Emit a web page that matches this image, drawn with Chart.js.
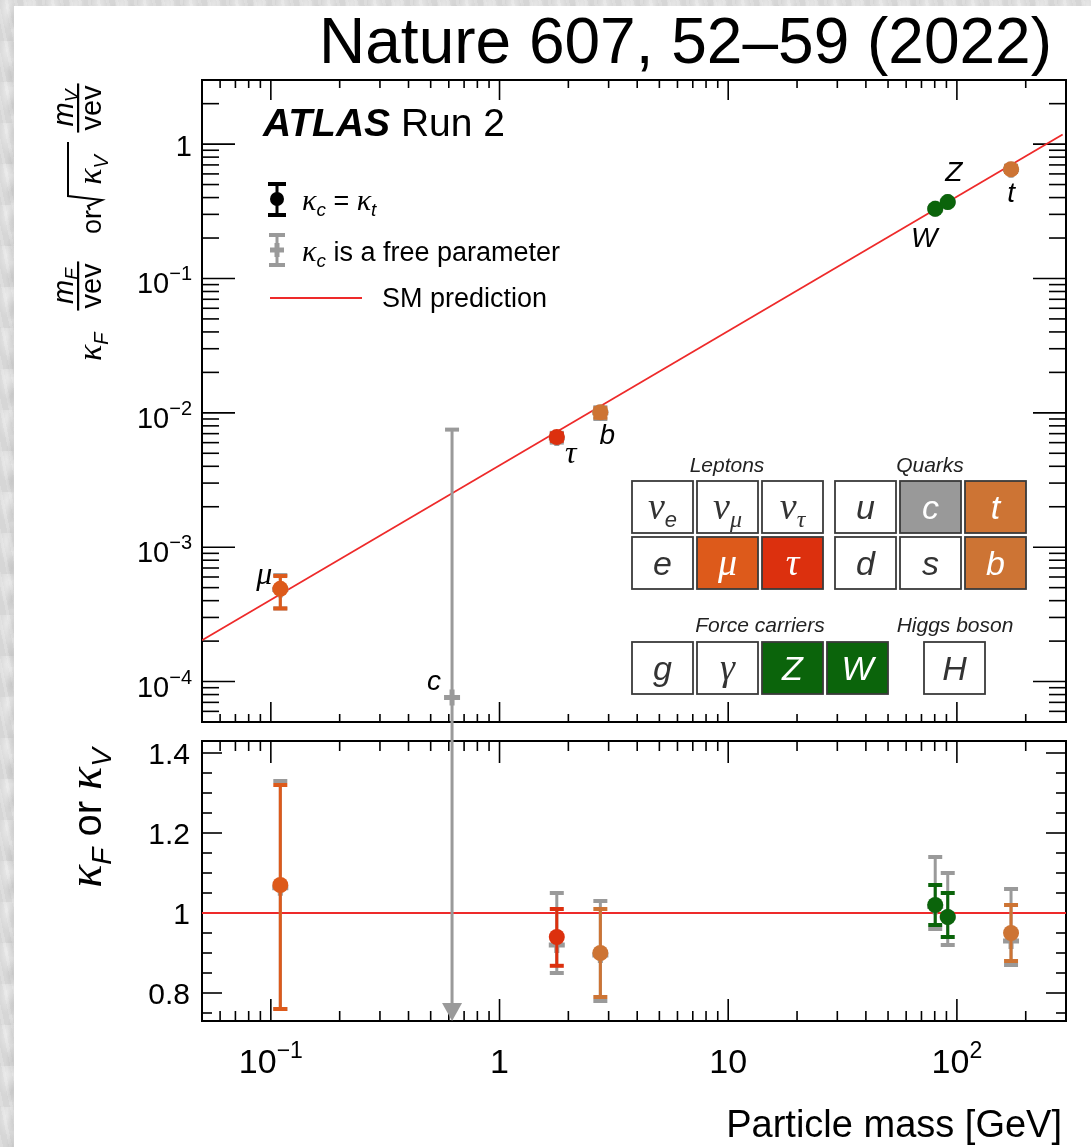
<!DOCTYPE html>
<html>
<head>
<meta charset="utf-8">
<title>Higgs boson couplings vs particle mass</title>
<script src="https://cdn.jsdelivr.net/npm/chart.js@4.4.1/dist/chart.umd.min.js"></script>
<style>
  html, body { margin: 0; padding: 0; }
  body {
    width: 1091px; height: 1147px; position: relative; overflow: hidden;
    background-color: #d6d6d6;
    background-image:
      radial-gradient(ellipse 9px 22px at 30% 20%, rgba(255,255,255,0.45), transparent),
      radial-gradient(ellipse 6px 15px at 70% 60%, rgba(170,170,170,0.35), transparent),
      repeating-linear-gradient(78deg, rgba(255,255,255,0.18) 0 3px, transparent 3px 9px);
    background-size: 23px 41px, 17px 29px, auto;
  }
  #sheet { position: absolute; left: 14px; top: 6px; right: 0; bottom: 0; background: #fff; }
  canvas { position: absolute; left: 0; }
  #topPanel { top: 0; }
  #bottomPanel { top: 722px; }
</style>
</head>
<body>
<div id="sheet"></div>
<canvas id="topPanel" width="1091" height="725"></canvas>
<canvas id="bottomPanel" width="1091" height="425"></canvas>
<script>
// particles measured in both fits
var names = ['μ', 'τ', 'b', 'W', 'Z', 't'];
var masses = [0.11, 1.78, 2.76, 80.4, 91.2, 172.5];
var colours = ['#dd5a1b', '#dc300e', '#cd7434', '#0b640b', '#0b640b', '#cd7434'];

// reduced coupling, kappa_c = kappa_t
var reduced   = [4.9e-4, 6.6e-3, 1.01e-2, 0.33, 0.37, 0.65];
var reducedLo = [3.5e-4, 6.2e-3, 9.2e-3, 0.32, 0.36, 0.62];
var reducedHi = [6.1e-4, 7.0e-3, 1.08e-2, 0.34, 0.38, 0.68];

// reduced coupling, kappa_c free
var reducedFree   = [4.85e-4, 6.5e-3, 1.0e-2, 0.33, 0.37, 0.645];
var reducedFreeLo = [3.5e-4, 6.0e-3, 9.0e-3, 0.32, 0.355, 0.62];
var reducedFreeHi = [6.2e-4, 7.1e-3, 1.1e-2, 0.345, 0.385, 0.69];

// charm quark (free parameter only)
var charmMass = 0.62;
var charmReduced = 7.6e-5, charmReducedLo = 1e-6, charmReducedHi = 7.5e-3;
var charmKappa = 0.03, charmKappaLo = -5, charmKappaHi = 3.0;

// coupling modifiers
var kappa   = [1.07, 0.94, 0.90, 1.02, 0.99, 0.95];
var kappaLo = [0.76, 0.868, 0.79, 0.97, 0.94, 0.88];
var kappaHi = [1.32, 1.01, 1.01, 1.07, 1.05, 1.02];
var kappaFree   = [1.063, 0.92, 0.895, 1.016, 0.99, 0.93];
var kappaFreeLo = [0.76, 0.85, 0.78, 0.96, 0.92, 0.87];
var kappaFreeHi = [1.33, 1.05, 1.03, 1.14, 1.10, 1.06];

// SM prediction
var smMass = [0.05, 290];
var smReduced = [2.03e-4, 1.18];
var smKappaMass = [0.05, 300];
var smKappa = [1, 1];

// axis labels
var xTickValues = [0.1, 1, 10, 100];
var xTickLabels = [['10', '−1'], ['1'], ['10'], ['10', '2']];
var yTopTickValues = [1, 0.1, 0.01, 0.001, 0.0001];
var yTopTickLabels = [['1'], ['10', '−1'], ['10', '−2'], ['10', '−3'], ['10', '−4']];
var yBotTickValues = [0.8, 1, 1.2, 1.4];
var yBotTickLabels = ['0.8', '1', '1.2', '1.4'];

var RED = '#ee2a2a';
var GREY = '#9a9a9a';
var SANS = '"Liberation Sans", Arial, Helvetica, sans-serif';
var SERIF = '"Liberation Serif", "DejaVu Serif", serif';

function sans(px, style) { return (style ? style + ' ' : '') + px + 'px ' + SANS; }
function greek(px) { return 'italic ' + px + 'px ' + SERIF; }

function partsWidth(ctx, parts) {
  var w = 0;
  parts.forEach(function (p) { ctx.font = p[1]; w += ctx.measureText(p[0]).width; });
  return w;
}

function drawParts(ctx, parts, x, y, align) {
  var w = partsWidth(ctx, parts);
  var cx = align === 'right' ? x - w : (align === 'center' ? x - w / 2 : x);
  ctx.textAlign = 'left';
  ctx.textBaseline = 'alphabetic';
  parts.forEach(function (p) {
    ctx.font = p[1];
    ctx.fillText(p[0], cx, y + (p[2] || 0));
    cx += ctx.measureText(p[0]).width;
  });
}

function line(ctx, x1, y1, x2, y2) {
  ctx.beginPath(); ctx.moveTo(x1, y1); ctx.lineTo(x2, y2); ctx.stroke();
}

function logTicks(min, max) {
  var out = [];
  for (var e = Math.floor(Math.log10(min)); e <= Math.ceil(Math.log10(max)); e++) {
    for (var m = 1; m <= 9; m++) {
      var v = m * Math.pow(10, e);
      if (v >= min * 0.999 && v <= max * 1.001) out.push({ v: v, major: m === 1 });
    }
  }
  return out;
}

function linTicks(min, max, step, every) {
  var out = [];
  for (var i = Math.ceil(min / step - 1e-6); i * step <= max + 1e-6; i++) {
    out.push({ v: i * step, major: i % every === 0 });
  }
  return out;
}

// frame with ticks pointing inwards on all four sides
function drawAxes(chart, cfg) {
  var ctx = chart.ctx, a = chart.chartArea, xs = chart.scales.x, ys = chart.scales.y;
  ctx.save();
  ctx.strokeStyle = '#000';
  ctx.lineWidth = 1.6;
  cfg.xTicks.forEach(function (t) {
    var px = xs.getPixelForValue(t.v);
    var len = t.major ? cfg.xMajor : cfg.xMinor;
    line(ctx, px, a.bottom, px, a.bottom - len);
    line(ctx, px, a.top, px, a.top + len);
  });
  cfg.yTicks.forEach(function (t) {
    var py = ys.getPixelForValue(t.v);
    var len = t.major ? cfg.yMajor : cfg.yMinor;
    line(ctx, a.left, py, a.left + len, py);
    line(ctx, a.right, py, a.right - len, py);
  });
  ctx.lineWidth = 2;
  ctx.strokeRect(a.left, a.top, a.right - a.left, a.bottom - a.top);
  ctx.restore();
}

function drawBars(chart, xv, lo, hi, colour, lw, cap) {
  var ctx = chart.ctx, a = chart.chartArea, xs = chart.scales.x, ys = chart.scales.y;
  ctx.save();
  ctx.beginPath();
  ctx.rect(a.left, a.top, a.right - a.left, a.bottom - a.top);
  ctx.clip();
  ctx.strokeStyle = colour;
  for (var i = 0; i < xv.length; i++) {
    var px = xs.getPixelForValue(xv[i]);
    var y1 = ys.getPixelForValue(lo[i]);
    var y2 = ys.getPixelForValue(hi[i]);
    ctx.lineWidth = lw;
    line(ctx, px, y1, px, y2);
    ctx.lineWidth = lw + 1;
    line(ctx, px - cap / 2, y1, px + cap / 2, y1);
    line(ctx, px - cap / 2, y2, px + cap / 2, y2);
  }
  ctx.restore();
}

function points(xv, yv) {
  return xv.map(function (x, i) { return { x: x, y: yv[i] }; });
}

function datasetsFor(smX, smY, freeY, fitY, charmY) {
  return [
    { data: points(smX, smY), showLine: true, borderColor: RED, borderWidth: 1.8,
      pointRadius: 0, fill: false, order: 3 },
    { data: points(masses.concat([charmMass]), freeY.concat([charmY])),
      pointStyle: 'cross', pointRadius: 8, pointBorderWidth: 5,
      borderColor: GREY, pointBorderColor: GREY, order: 2 },
    { data: points(masses, fitY), pointStyle: 'circle', pointRadius: 8,
      pointBackgroundColor: colours, pointBorderWidth: 0, order: 1 }
  ];
}

function baseOptions(padding, yType, yMin, yMax) {
  return {
    responsive: false, animation: false, events: [], devicePixelRatio: 1,
    layout: { padding: padding, autoPadding: false },
    scales: {
      x: { type: 'logarithmic', min: 0.05, max: 300, display: false },
      y: { type: yType, min: yMin, max: yMax, display: false }
    },
    plugins: { legend: { display: false }, tooltip: { enabled: false } }
  };
}

function cell(ctx, x, y, fill, parts, textColour) {
  ctx.fillStyle = fill;
  ctx.fillRect(x, y, 61, 52);
  ctx.strokeStyle = '#3a3a3a';
  ctx.lineWidth = 1.8;
  ctx.strokeRect(x, y, 61, 52);
  ctx.fillStyle = textColour;
  drawParts(ctx, parts, x + 30.5, y + 38, 'center');
}

function drawTable(ctx) {
  var dark = '#333';
  var L = function (s) { return [s, sans(34, 'italic')]; };
  var G = function (s) { return [s, greek(38)]; };
  ctx.fillStyle = '#222';
  drawParts(ctx, [['Leptons', sans(21, 'italic')]], 727, 472, 'center');
  drawParts(ctx, [['Quarks', sans(21, 'italic')]], 930, 472, 'center');
  drawParts(ctx, [['Force carriers', sans(21, 'italic')]], 760, 632, 'center');
  drawParts(ctx, [['Higgs boson', sans(21, 'italic')]], 955, 632, 'center');

  cell(ctx, 632, 481, '#fff', [G('ν'), ['e', sans(22, 'italic'), 8]], dark);
  cell(ctx, 697, 481, '#fff', [G('ν'), ['μ', greek(24), 8]], dark);
  cell(ctx, 762, 481, '#fff', [G('ν'), ['τ', greek(24), 8]], dark);
  cell(ctx, 835, 481, '#fff', [L('u')], dark);
  cell(ctx, 900, 481, '#999999', [L('c')], '#fff');
  cell(ctx, 965, 481, '#cd7434', [L('t')], '#fff');

  cell(ctx, 632, 537, '#fff', [L('e')], dark);
  cell(ctx, 697, 537, '#dd5a1b', [G('μ')], '#fff');
  cell(ctx, 762, 537, '#dc300e', [G('τ')], '#fff');
  cell(ctx, 835, 537, '#fff', [L('d')], dark);
  cell(ctx, 900, 537, '#fff', [L('s')], dark);
  cell(ctx, 965, 537, '#cd7434', [L('b')], '#fff');

  cell(ctx, 632, 642, '#fff', [L('g')], dark);
  cell(ctx, 697, 642, '#fff', [G('γ')], dark);
  cell(ctx, 762, 642, '#0b640b', [L('Z')], '#fff');
  cell(ctx, 827, 642, '#0b640b', [L('W')], '#fff');
  cell(ctx, 924, 642, '#fff', [L('H')], dark);
}

function fraction(ctx, num, den, cx) {
  var w = Math.max(partsWidth(ctx, num), partsWidth(ctx, den)) + 4;
  drawParts(ctx, num, cx, -28, 'center');
  drawParts(ctx, den, cx, 0, 'center');
  ctx.fillRect(cx - w / 2, -24, w, 2.2);
}

function drawTopTitle(ctx) {
  ctx.save();
  ctx.translate(101, 220);
  ctx.rotate(-Math.PI / 2);
  ctx.fillStyle = '#000';
  ctx.strokeStyle = '#000';
  drawParts(ctx, [['κ', greek(34)], ['F', sans(20, 'italic'), 7]], -141, 0, 'left');
  fraction(ctx, [['m', sans(29, 'italic')], ['F', sans(19, 'italic'), 5]], [['vev', sans(29)]], -66);
  drawParts(ctx, [['or', sans(27)]], -2, 0, 'center');
  ctx.lineWidth = 2;
  ctx.beginPath();
  ctx.moveTo(10, -11); ctx.lineTo(14, -13); ctx.lineTo(20, 1);
  ctx.lineTo(24, -33); ctx.lineTo(78, -33);
  ctx.stroke();
  drawParts(ctx, [['κ', greek(34)], ['V', sans(20, 'italic'), 7]], 50, 0, 'center');
  fraction(ctx, [['m', sans(29, 'italic')], ['V', sans(19, 'italic'), 5]], [['vev', sans(29)]], 112);
  ctx.restore();
}

// label offsets from each marker, in pixels
var labelOffsets = [[-16, -13], [14, 18], [7, 24], [-11, 30], [6, -29], [0, 25]];

var topDecor = {
  id: 'topDecor',
  beforeDatasetsDraw: function (chart) {
    drawAxes(chart, {
      xTicks: logTicks(0.05, 300), xMajor: 20, xMinor: 8,
      yTicks: logTicks(5e-5, 3), yMajor: 33, yMinor: 17
    });
  },
  beforeDatasetDraw: function (chart, args) {
    if (args.index === 1) {
      drawBars(chart, masses.concat([charmMass]), reducedFreeLo.concat([charmReducedLo]),
        reducedFreeHi.concat([charmReducedHi]), GREY, 3, 14);
    } else if (args.index === 2) {
      for (var i = 0; i < masses.length; i++) {
        drawBars(chart, [masses[i]], [reducedLo[i]], [reducedHi[i]], colours[i], 3, 14);
      }
    }
  },
  afterDraw: function (chart) {
    var ctx = chart.ctx, xs = chart.scales.x, ys = chart.scales.y;
    ctx.save();
    ctx.fillStyle = '#000';
    yTopTickValues.forEach(function (v, i) {
      var lab = yTopTickLabels[i];
      var parts = [[lab[0], sans(29)]];
      if (lab[1]) parts.push([lab[1], sans(20), -13]);
      drawParts(ctx, parts, 192, ys.getPixelForValue(v) + (lab[1] ? 15 : 12), 'right');
    });
    drawTopTitle(ctx);

    drawParts(ctx, [['Nature 607, 52–59 (2022)', sans(64)]], 1052, 63, 'right');
    drawParts(ctx, [['ATLAS', sans(39, 'italic bold')], [' Run 2', sans(39)]], 263, 136, 'left');

    // legend
    ctx.strokeStyle = '#000';
    ctx.lineWidth = 3;
    line(ctx, 277, 184, 277, 215);
    ctx.lineWidth = 4;
    line(ctx, 268, 184, 286, 184);
    line(ctx, 268, 215, 286, 215);
    ctx.beginPath(); ctx.arc(277, 199, 7, 0, 2 * Math.PI); ctx.fill();
    drawParts(ctx, [['κ', greek(30)], ['c', sans(19, 'italic'), 6], [' = ', sans(27)],
      ['κ', greek(30)], ['t', sans(19, 'italic'), 6]], 302, 210, 'left');

    ctx.strokeStyle = GREY;
    ctx.lineWidth = 3;
    line(ctx, 277, 235, 277, 265);
    ctx.lineWidth = 4;
    line(ctx, 269, 235, 285, 235);
    line(ctx, 269, 265, 285, 265);
    ctx.lineWidth = 5;
    line(ctx, 270, 250, 284, 250);
    line(ctx, 277, 243, 277, 257);
    drawParts(ctx, [['κ', greek(30)], ['c', sans(19, 'italic'), 6],
      [' is a free parameter', sans(27)]], 302, 261, 'left');

    ctx.strokeStyle = RED;
    ctx.lineWidth = 1.8;
    line(ctx, 270, 298, 362, 298);
    drawParts(ctx, [['SM prediction', sans(27)]], 382, 307, 'left');

    // particle labels next to their markers
    ctx.textBaseline = 'middle';
    ctx.textAlign = 'center';
    masses.forEach(function (m, i) {
      var px = xs.getPixelForValue(m) + labelOffsets[i][0];
      var py = ys.getPixelForValue(reduced[i]) + labelOffsets[i][1];
      ctx.font = (names[i] === 'μ' || names[i] === 'τ') ? greek(32) : sans(28, 'italic');
      ctx.fillText(names[i], px, py);
    });
    ctx.font = sans(28, 'italic');
    ctx.fillText('c', xs.getPixelForValue(charmMass) - 18, ys.getPixelForValue(charmReduced) - 15);

    drawTable(ctx);
    ctx.restore();
  }
};

var bottomDecor = {
  id: 'bottomDecor',
  beforeDatasetsDraw: function (chart) {
    drawAxes(chart, {
      xTicks: logTicks(0.05, 300), xMajor: 22, xMinor: 10,
      yTicks: linTicks(0.73, 1.43, 0.05, 4), yMajor: 20, yMinor: 10
    });
  },
  beforeDatasetDraw: function (chart, args) {
    var ctx = chart.ctx, a = chart.chartArea, xs = chart.scales.x, ys = chart.scales.y;
    if (args.index === 1) {
      drawBars(chart, masses, kappaFreeLo, kappaFreeHi, GREY, 3, 14);
      // charm: interval runs off both ends of the panel
      var px = xs.getPixelForValue(charmMass);
      var yTop = Math.max(0, ys.getPixelForValue(charmKappaHi));
      var tip = charmKappaLo < ys.min ? a.bottom : ys.getPixelForValue(charmKappaLo);
      ctx.save();
      ctx.strokeStyle = GREY;
      ctx.fillStyle = GREY;
      ctx.lineWidth = 3;
      line(ctx, px, yTop, px, tip - 16);
      ctx.beginPath();
      ctx.moveTo(px - 10, tip - 18); ctx.lineTo(px + 10, tip - 18); ctx.lineTo(px, tip);
      ctx.closePath(); ctx.fill();
      ctx.restore();
    } else if (args.index === 2) {
      for (var i = 0; i < masses.length; i++) {
        drawBars(chart, [masses[i]], [kappaLo[i]], [kappaHi[i]], colours[i], 3, 14);
      }
    }
  },
  afterDraw: function (chart) {
    var ctx = chart.ctx, xs = chart.scales.x, ys = chart.scales.y;
    ctx.save();
    ctx.fillStyle = '#000';
    yBotTickValues.forEach(function (v, i) {
      drawParts(ctx, [[yBotTickLabels[i], sans(30)]], 190, ys.getPixelForValue(v) + 11, 'right');
    });
    xTickValues.forEach(function (v, i) {
      var lab = xTickLabels[i];
      var parts = [[lab[0], sans(34)]];
      if (lab[1]) parts.push([lab[1], sans(23), -15]);
      drawParts(ctx, parts, xs.getPixelForValue(v), 351, 'center');
    });
    drawParts(ctx, [['Particle mass [GeV]', sans(38)]], 1062, 415, 'right');

    ctx.translate(101, 96);
    ctx.rotate(-Math.PI / 2);
    drawParts(ctx, [['κ', greek(48)], ['F', sans(28, 'italic'), 10], [' or ', sans(40)],
      ['κ', greek(48)], ['V', sans(28, 'italic'), 10]], 0, 0, 'center');
    ctx.restore();
  }
};

var topChart = new Chart(document.getElementById('topPanel'), {
  type: 'scatter',
  data: { datasets: datasetsFor(smMass, smReduced, reducedFree, reduced, charmReduced) },
  options: baseOptions({ left: 202, right: 25, top: 80, bottom: 3 }, 'logarithmic', 5e-5, 3),
  plugins: [topDecor]
});

var bottomChart = new Chart(document.getElementById('bottomPanel'), {
  type: 'scatter',
  data: { datasets: datasetsFor(smKappaMass, smKappa, kappaFree, kappa, charmKappa) },
  options: baseOptions({ left: 202, right: 25, top: 19, bottom: 126 }, 'linear', 0.73, 1.43),
  plugins: [bottomDecor]
});
</script>
</body>
</html>
